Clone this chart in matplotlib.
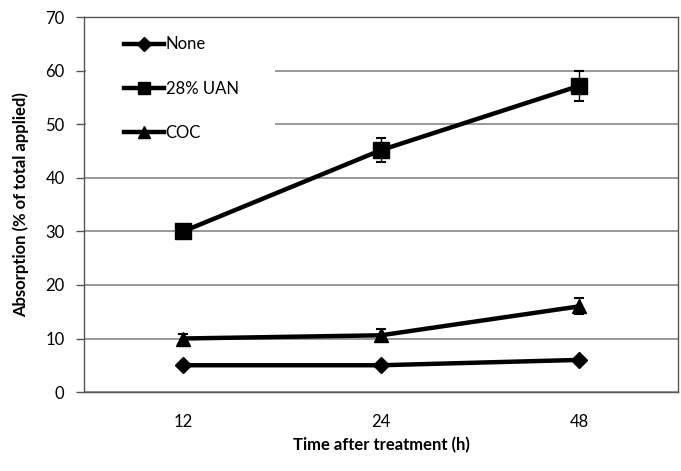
import matplotlib.pyplot as plt
from matplotlib.lines import Line2D
from matplotlib.patches import Rectangle
import numpy as np

plt.rcParams["font.family"] = ["Lato", "DejaVu Sans"]

# absorption data (% of total applied) per adjuvant
hours = ["12", "24", "48"]
none_vals = [5.0, 5.0, 6.0]
none_err = [0.3, 0.3, 0.4]
uan_vals = [30.0, 45.2, 57.2]
uan_err = [1.0, 2.3, 2.8]
coc_vals = [10.0, 10.6, 16.0]
coc_err = [0.9, 1.1, 1.5]

fig = plt.figure(figsize=(6.81, 4.71), dpi=100)
ax = fig.add_axes([0.1233, 0.1677, 0.8723, 0.7953])

x = np.arange(len(hours))
series = [
    ("None", none_vals, none_err, "D", 8),
    ("28% UAN", uan_vals, uan_err, "s", 11),
    ("COC", coc_vals, coc_err, "^", 10),
]
handles = []
for label, vals, err, mk, ms in series:
    ax.errorbar(x, vals, yerr=err, color="black", lw=3.2, marker=mk, ms=ms,
                ecolor="black", elinewidth=1.0, capsize=3.5, capthick=1.5,
                zorder=3)
    handles.append(Line2D([], [], color="black", lw=3.2, marker=mk, ms=ms * 0.85))

ax.set_xlim(-0.5, 2.5)
ax.set_ylim(0, 70)
ax.set_yticks(range(0, 71, 10))
ax.set_xticks(x)
ax.set_xticklabels(hours)
ax.tick_params(axis="x", length=0, pad=16, labelsize=12)
ax.tick_params(axis="y", length=6, width=1, color="#555555", labelsize=12, pad=8)
ax.yaxis.grid(True, color="#888888", lw=1.2)
ax.set_axisbelow(True)
for s in ax.spines.values():
    s.set_color("#555555")
    s.set_linewidth(1)

ax.set_xlabel("Time after treatment (h)", fontsize=12, fontweight="bold", labelpad=5)
ax.set_ylabel("Absorption (% of total applied)", fontsize=12, fontweight="bold", labelpad=12)

# white block behind the legend, covering the gridlines
ax.add_patch(Rectangle((0.003, 0.645), 0.318, 0.345, transform=ax.transAxes,
                       facecolor="white", edgecolor="none", zorder=1))

ax.legend(handles, [s[0] for s in series], loc="upper left",
          bbox_to_anchor=(0.045, 0.985), frameon=False,
          fontsize=12, labelspacing=1.7, handlelength=2.4,
          handletextpad=0.1, borderpad=0.3)

fig.savefig("out.png", dpi=100)
